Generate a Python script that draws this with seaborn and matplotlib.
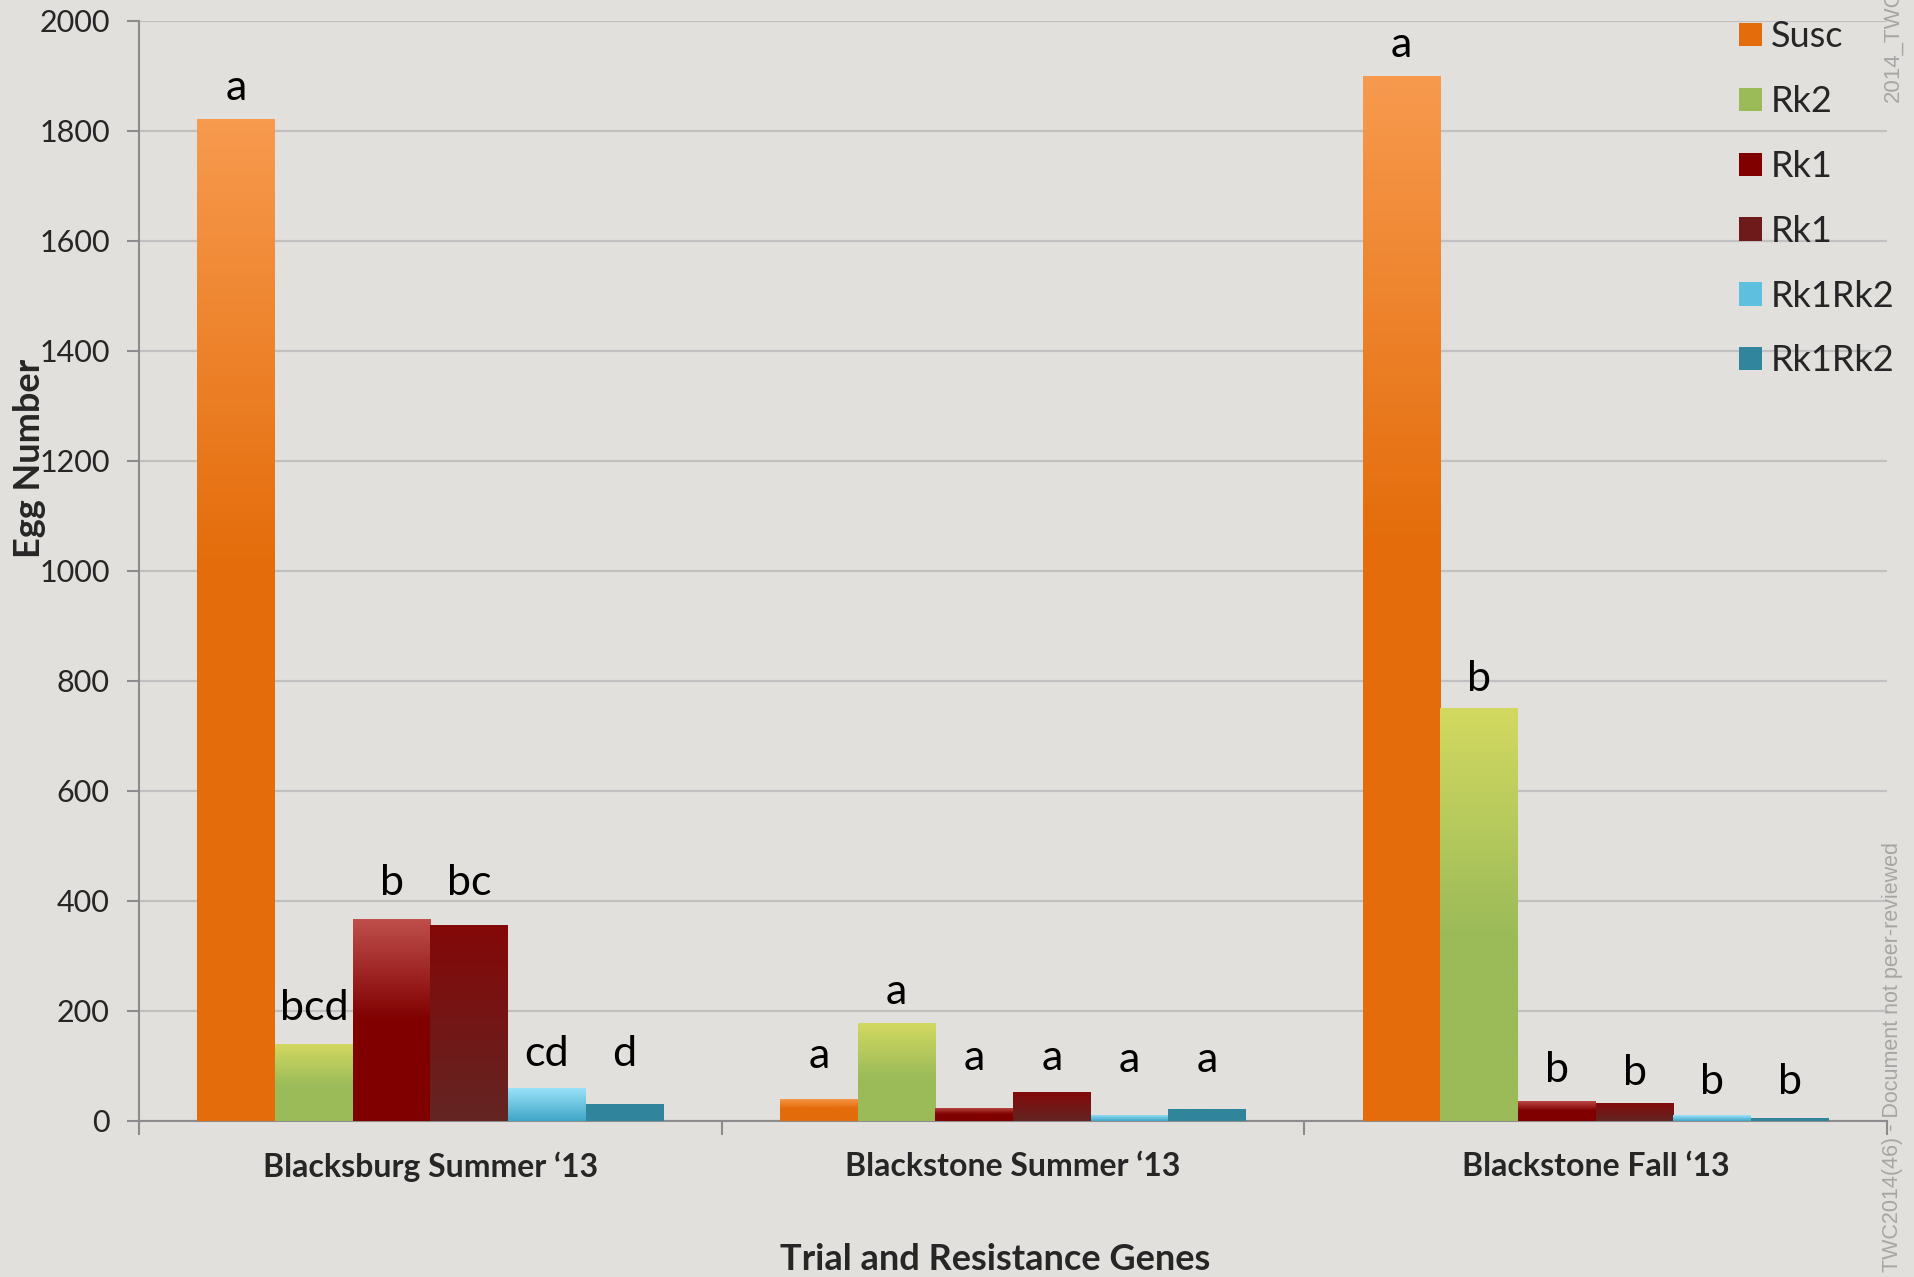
import numpy as np
import pandas as pd
import matplotlib
matplotlib.use("Agg")
import matplotlib.pyplot as plt
import seaborn as sns
from matplotlib.colors import LinearSegmentedColormap

# ---------------- data ----------------
trials = ["Blacksburg Summer \u201813", "Blackstone Summer \u201813", "Blackstone Fall \u201813"]
gene_labels = ["Susc", "Rk2", "Rk1", "Rk1", "Rk1Rk2", "Rk1Rk2"]
susc = [1822, 40, 1900]
rk2 = [140, 178, 750]
rk1_a = [368, 24, 37]
rk1_b = [357, 53, 33]
rk1rk2_a = [60, 11, 10]
rk1rk2_b = [31, 22, 5]
series = [susc, rk2, rk1_a, rk1_b, rk1rk2_a, rk1rk2_b]

letters_susc = ["a", "a", "a"]
letters_rk2 = ["bcd", "a", "b"]
letters_rk1_a = ["b", "a", "b"]
letters_rk1_b = ["bc", "a", "b"]
letters_rk1rk2_a = ["cd", "a", "b"]
letters_rk1rk2_b = ["d", "a", "b"]
letters = [letters_susc, letters_rk2, letters_rk1_a, letters_rk1_b, letters_rk1rk2_a, letters_rk1rk2_b]

# ---------------- layout / style ----------------
label_y = [[1878, 118, 1956], [206, 235, 804], [433, 115, 93],
           [433, 115, 87], [122, 111, 71], [122, 111, 71]]
hue_keys = [f"s{i}" for i in range(len(series))]
base_colors = ["#e46c0a", "#9bbb59", "#800000", "#6e1a1a", "#5fbfdf", "#31859c"]
gradients = [
    [(0.0, "#f79a4e"), (0.45, "#e46c0a"), (1.0, "#e46c0a")],
    [(0.0, "#d3d960"), (0.55, "#9bbb59"), (1.0, "#9bbb59")],
    [(0.0, "#c0504d"), (0.5, "#800000"), (1.0, "#800000")],
    [(0.0, "#840808"), (1.0, "#632523")],
    [(0.0, "#9de3fb"), (1.0, "#3fa7c7")],
    [(0.0, "#31859c"), (1.0, "#31859c")],
]
bg = "#e1e0dc"

rows = []
for key, vals in zip(hue_keys, series):
    for t, v in zip(trials, vals):
        rows.append({"trial": t, "gene": key, "eggs": v})
df = pd.DataFrame(rows)

sns.set_theme(style="white")
plt.rcParams["font.family"] = ["Lato", "DejaVu Sans"]

fig = plt.figure(figsize=(19.15, 12.77), dpi=100, facecolor=bg)
ax = fig.add_axes([0.0726, 0.1222, 0.9128, 0.8615])
ax.set_facecolor("none")

sns.barplot(data=df, x="trial", y="eggs", hue="gene", hue_order=hue_keys,
            palette=base_colors, width=0.8, saturation=1, ax=ax,
            errorbar=None, legend=True, linewidth=0, zorder=3)

ax.set_ylim(0, 2000)
ax.set_xlim(-0.5, 2.5)

# gradient overlays clipped to each bar
for ci, cont in enumerate(ax.containers):
    cmap = LinearSegmentedColormap.from_list(f"g{ci}", gradients[ci])
    grad = np.linspace(0, 1, 256).reshape(-1, 1)
    for patch in cont.patches:
        x0 = patch.get_x(); w = patch.get_width(); h = patch.get_height()
        im = ax.imshow(grad, cmap=cmap, extent=[x0, x0 + w, 0, h], aspect="auto",
                       origin="upper", zorder=3.5, interpolation="bilinear")
        im.set_clip_path(patch)
ax.set_xlim(-0.5, 2.5)
ax.set_ylim(0, 2000)
ax.set_aspect("auto")

# letters
for ci, cont in enumerate(ax.containers):
    for j, patch in enumerate(cont.patches):
        xc = patch.get_x() + patch.get_width() / 2
        ax.text(xc, label_y[ci][j], letters[ci][j], ha="center", va="center",
                fontsize=31, color="black", zorder=5)

# grid and axes
ax.set_yticks(np.arange(0, 2001, 200))
ax.yaxis.grid(True, color="#c0c0c0", linewidth=1.6, zorder=0)
ax.set_axisbelow(True)
for s in ["top", "right"]:
    ax.spines[s].set_visible(False)
ax.spines["left"].set_color("#8c8c8c")
ax.spines["left"].set_linewidth(1.5)
ax.spines["bottom"].set_color("#8c8c8c")
ax.spines["bottom"].set_linewidth(1.5)
ax.tick_params(axis="y", which="major", direction="out", length=9, width=1.5,
               color="#8c8c8c", labelsize=22, pad=12, left=True)
ax.set_xticks([-0.5, 0.5, 1.5, 2.5], minor=True)
ax.tick_params(axis="x", which="minor", direction="out", length=10, width=1.5,
               color="#8c8c8c", bottom=True)
ax.tick_params(axis="x", which="major", length=0, labelsize=23, pad=22)
for lab in ax.get_xticklabels():
    lab.set_fontweight("bold")

ax.set_ylabel("")
ax.set_xlabel("")
fig.text(30 / 1915, 1 - 458 / 1277, "Egg Number", rotation=90, ha="center",
         va="center", fontsize=26, fontweight="bold")
fig.text(995 / 1915, 1 - 1260 / 1277, "Trial and Resistance Genes", ha="center",
         va="center", fontsize=26, fontweight="bold")

# legend
handles, _ = ax.get_legend_handles_labels()
ax.legend_.remove()
fig.legend(handles, gene_labels, loc="upper left",
           bbox_to_anchor=(1725 / 1915, 1 - 6 / 1277), frameon=False,
           fontsize=26, handlelength=0.62, handleheight=0.62,
           handletextpad=0.25, labelspacing=0.88, borderaxespad=0)

# watermark texts
fig.text(1893 / 1915, 1 - 102 / 1277, "2014_TWC", rotation=90, ha="center",
         va="bottom", fontsize=16, color="#a6a6a6", family="Liberation Sans")
fig.text(1893 / 1915, 1 - 842 / 1277, "TWC2014(46) - Document not peer-reviewed",
         rotation=90, ha="center", va="top", fontsize=15.5, color="#a6a6a6",
         family="Liberation Sans")

fig.savefig("out.png", dpi=100, facecolor=bg)
